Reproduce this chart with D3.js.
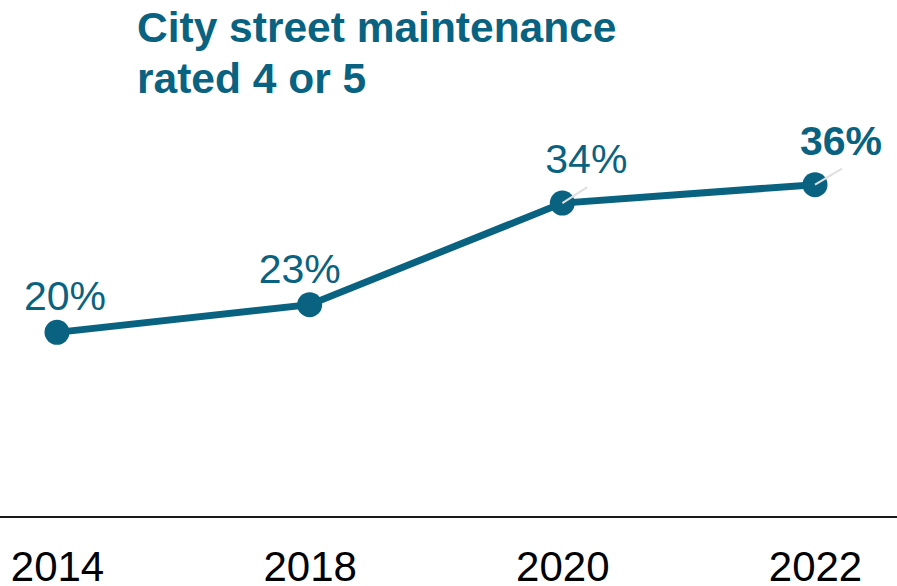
<!DOCTYPE html>
<html lang="en">
<head>
    <meta charset="UTF-8">
    <title>City street maintenance rated 4 or 5</title>
    <script src="https://d3js.org/d3.v7.min.js"></script>
    <style>
        body {
            margin: 0;
            background: #fff;
            font-family: 'Liberation Sans', Arial, sans-serif;
        }
        .title {
            font-weight: bold;
            font-size: 42.5px;
            fill: #0a6281;
        }
        .tick text {
            font-size: 42px;
            fill: #000;
        }
        .value-label {
            font-size: 41px;
            fill: #0a6281;
            text-anchor: middle;
        }
    </style>
</head>
<body>
    <svg width="897" height="586"></svg>
    <script>
        // Data
        const years = ["2014", "2018", "2020", "2022"];
        const values = [20, 23, 34, 36];
        const labels = ["20%", "23%", "34%", "36%"];
        const titleLines = ["City street maintenance", "rated 4 or 5"];

        const width = 897;
        const height = 586;
        const color = "#0a6281";

        const svg = d3.select("svg")
            .attr("width", width)
            .attr("height", height);

        const x = d3.scalePoint()
            .domain(years)
            .range([57, 815]);

        const y = d3.scaleLinear()
            .domain([0, 56])
            .range([517, 0]);

        const data = years.map((yr, i) => ({ year: yr, value: values[i], label: labels[i] }));

        // Title
        svg.append("text")
            .attr("class", "title")
            .selectAll("tspan")
            .data(titleLines)
            .enter().append("tspan")
            .attr("x", 137)
            .attr("y", (d, i) => 42 + i * 51)
            .text(d => d);

        // Baseline axis with year labels
        const xAxis = svg.append("g")
            .attr("transform", `translate(0,${y(0)})`)
            .call(d3.axisBottom(x).tickSize(0).tickPadding(34));
        xAxis.select(".domain").remove();
        xAxis.selectAll("text").attr("dy", "0.71em");

        svg.append("line")
            .attr("x1", 0)
            .attr("x2", width)
            .attr("y1", y(0))
            .attr("y2", y(0))
            .attr("stroke", "#1a1a1a")
            .attr("stroke-width", 2);

        // Line
        const line = d3.line()
            .x(d => x(d.year))
            .y(d => y(d.value));

        svg.append("path")
            .datum(data)
            .attr("d", line)
            .attr("fill", "none")
            .attr("stroke", color)
            .attr("stroke-width", 7);

        svg.selectAll(".point")
            .data(data)
            .enter().append("circle")
            .attr("class", "point")
            .attr("cx", d => x(d.year))
            .attr("cy", d => y(d.value))
            .attr("r", 12.5)
            .attr("fill", color);

        // Label nudges (label centre relative to point), roughly where the repel put them
        const nudge = [[8, -22], [-10, -22], [24, -30], [26, -30]];

        // light leader lines for the nudged labels
        svg.selectAll(".leader")
            .data(data.filter((d, i) => i >= 2))
            .enter().append("line")
            .attr("class", "leader")
            .attr("x1", d => x(d.year))
            .attr("y1", d => y(d.value))
            .attr("x2", (d, i) => x(d.year) + nudge[i + 2][0] + 1)
            .attr("y2", (d, i) => y(d.value) + nudge[i + 2][1] + 14)
            .attr("stroke", "#e0e0e0")
            .attr("stroke-width", 2);

        svg.selectAll(".value-label")
            .data(data)
            .enter().append("text")
            .attr("class", "value-label")
            .attr("x", (d, i) => x(d.year) + nudge[i][0])
            .attr("y", (d, i) => y(d.value) + nudge[i][1])
            .style("font-weight", (d, i) => i === data.length - 1 ? "bold" : "normal")
            .text(d => d.label);
    </script>
</body>
</html>
